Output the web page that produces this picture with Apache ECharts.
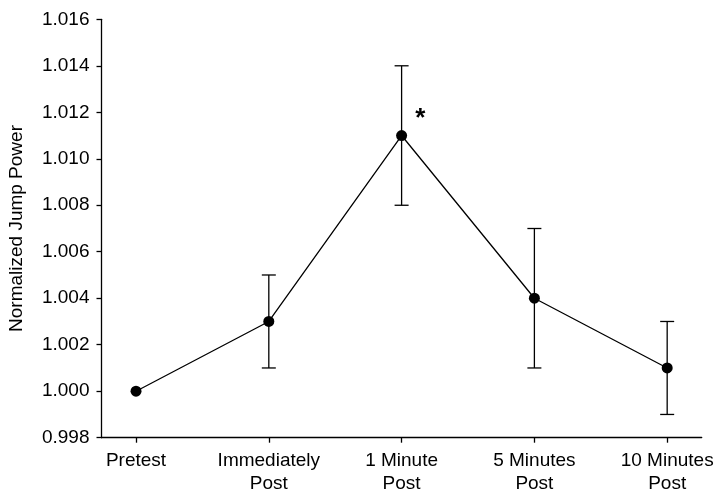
<!DOCTYPE html>
<html>
<head>
<meta charset="utf-8">
<script src="https://cdn.jsdelivr.net/npm/echarts@6/dist/echarts.min.js"></script>
<style>
  html, body { margin: 0; padding: 0; background: #fff; }
  #chart { width: 716px; height: 491px; }
</style>
</head>
<body>
<div id="chart"></div>
<script>
// time points after the intervention
const categories = ["Pretest", "Immediately\nPost", "1 Minute\nPost", "5 Minutes\nPost", "10 Minutes\nPost"];
const means = [1.000, 1.003, 1.011, 1.004, 1.001];
const errLow = [null, 1.001, 1.008, 1.001, 0.999];
const errHigh = [null, 1.005, 1.014, 1.007, 1.003];
const sigMarks = [{ x: 2.14, y: 1.0117, text: "*" }];

const font = "Liberation Sans, Arial, sans-serif";
const lineData = means.map((v, i) => [i, v]);
const errData = [];
for (let i = 0; i < categories.length; i++) {
  if (errLow[i] != null) errData.push([i, errLow[i], errHigh[i]]);
}

const chart = echarts.init(document.getElementById("chart"));
chart.setOption({
  backgroundColor: "#fff",
  animation: false,
  grid: { left: 101.5, right: 14.3, top: 19.3, bottom: 53.3, outerBoundsMode: "none" },
  xAxis: {
    type: "value",
    min: -0.26,
    max: 4.26,
    splitLine: { show: false },
    axisLine: { show: true, onZero: false, lineStyle: { color: "#000", width: 1.3 } },
    axisTick: { show: true, customValues: [0, 1, 2, 3, 4], length: 5, lineStyle: { color: "#000", width: 1.3 } },
    axisLabel: {
      customValues: [0, 1, 2, 3, 4],
      formatter: (v) => categories[Math.round(v)],
      color: "#000",
      fontFamily: font,
      fontSize: 19,
      lineHeight: 23,
      margin: 12,
    },
  },
  yAxis: {
    type: "value",
    min: 0.998,
    max: 1.016,
    interval: 0.002,
    name: "Normalized Jump Power",
    nameLocation: "middle",
    nameGap: 75,
    nameTextStyle: { color: "#000", fontFamily: font, fontSize: 19 },
    splitLine: { show: false },
    axisLine: { show: true, onZero: false, lineStyle: { color: "#000", width: 1.3 } },
    axisTick: { show: true, length: 5, lineStyle: { color: "#000", width: 1.3 } },
    axisLabel: {
      formatter: (v) => v.toFixed(3),
      color: "#000",
      fontFamily: font,
      fontSize: 19,
      margin: 12,
    },
  },
  series: [
    {
      type: "custom",
      data: errData,
      z: 1,
      renderItem: function (params, api) {
        const x = api.value(0);
        const lo = api.coord([x, api.value(1)]);
        const hi = api.coord([x, api.value(2)]);
        const cap = 7;
        const style = { stroke: "#000", lineWidth: 1.3 };
        return {
          type: "group",
          children: [
            { type: "line", shape: { x1: lo[0], y1: lo[1], x2: hi[0], y2: hi[1] }, style: style },
            { type: "line", shape: { x1: lo[0] - cap, y1: lo[1], x2: lo[0] + cap, y2: lo[1] }, style: style },
            { type: "line", shape: { x1: hi[0] - cap, y1: hi[1], x2: hi[0] + cap, y2: hi[1] }, style: style },
          ],
        };
      },
    },
    {
      type: "line",
      data: lineData,
      z: 3,
      symbol: "circle",
      symbolSize: 11,
      itemStyle: { color: "#000" },
      lineStyle: { color: "#000", width: 1.3 },
      markPoint: {
        symbol: "circle",
        symbolSize: 0,
        data: sigMarks.map((m) => ({
          coord: [m.x, m.y],
          label: {
            show: true,
            position: "inside",
            formatter: m.text,
            color: "#000",
            fontFamily: font,
            fontSize: 26,
            fontWeight: "bold",
          },
        })),
      },
    },
  ],
});
</script>
</body>
</html>
